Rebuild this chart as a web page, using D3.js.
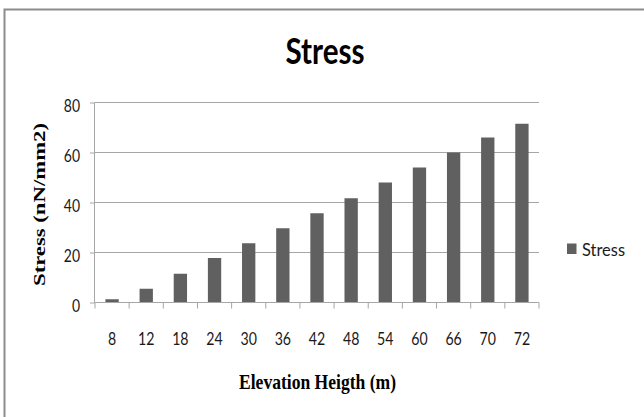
<!DOCTYPE html>
<html>
<head>
<meta charset="utf-8">
<script src="https://cdn.jsdelivr.net/npm/d3@7"></script>
<style>
  html, body { margin: 0; padding: 0; background: #fff; }
  svg { display: block; }
</style>
</head>
<body>
<svg id="chart" width="644" height="417"></svg>
<script>
// ---- data ----
const categories = ["8", "12", "18", "24", "30", "36", "42", "48", "54", "60", "66", "70", "72"];
const stressValues = [1.3, 5.5, 11.5, 17.8, 23.7, 29.7, 35.7, 41.7, 48.0, 54.0, 60.0, 66.0, 71.5];
const yTickValues = [0, 20, 40, 60, 80];
const seriesName = "Stress";
const chartTitle = "Stress";
const xAxisTitle = "Elevation Heigth (m)";
const yAxisTitle = "Stress (nN/mm2)";

// ---- layout ----
const svg = d3.select("#chart");
const plot = { left: 95, right: 539, top: 102.5, bottom: 302.5 };
const barColor = "#606060";
const gridColor = "#a6a6a6";
const sansFont = "Lato, 'Open Sans', sans-serif";
const serifFont = "'Liberation Serif', 'DejaVu Serif', serif";

// outer border (extends past right/bottom edge as in reference)
svg.append("rect")
  .attr("x", 4.5).attr("y", 9.5)
  .attr("width", 700).attr("height", 500)
  .attr("fill", "#fff")
  .attr("stroke", "#8c8c8c").attr("stroke-width", 2);

const x = d3.scaleBand().domain(categories).range([plot.left, plot.right]).padding(0);
const y = d3.scaleLinear().domain([0, 80]).range([plot.bottom, plot.top]);

// gridlines
svg.append("g").selectAll("line")
  .data(yTickValues.filter(d => d > 0))
  .join("line")
  .attr("x1", plot.left).attr("x2", plot.right)
  .attr("y1", d => y(d)).attr("y2", d => y(d))
  .attr("stroke", gridColor).attr("stroke-width", 1);

// bars
const barFrac = 0.39;
svg.append("g").selectAll("rect")
  .data(categories.map((c, i) => ({ c, v: stressValues[i] })))
  .join("rect")
  .attr("x", d => x(d.c) + x.bandwidth() * (1 - barFrac) / 2)
  .attr("width", x.bandwidth() * barFrac)
  .attr("y", d => y(d.v))
  .attr("height", d => y(0) - y(d.v))
  .attr("fill", barColor);

// y axis
const yAxis = svg.append("g")
  .attr("transform", `translate(${plot.left},0)`)
  .call(d3.axisLeft(y).tickValues(yTickValues).tickSize(5).tickPadding(10).tickFormat(d3.format("d")));
yAxis.select(".domain").attr("stroke", gridColor).attr("d", `M-0.5,${plot.top}V${plot.bottom}`);
yAxis.selectAll(".tick line").attr("stroke", gridColor);
yAxis.selectAll(".tick text")
  .attr("font-family", sansFont).attr("font-size", 17).attr("fill", "#1a1a1a")
  .attr("dy", "0.5em")
  .attr("textLength", d => String(d).length * 8.1)
  .attr("lengthAdjust", "spacingAndGlyphs");
yAxis.attr("font-size", null);

// x axis line and boundary ticks
const xg = svg.append("g");
xg.append("line")
  .attr("x1", plot.left).attr("x2", plot.right)
  .attr("y1", plot.bottom).attr("y2", plot.bottom)
  .attr("stroke", gridColor);
const boundaries = categories.map(c => x(c)).concat([x(categories[categories.length - 1]) + x.bandwidth()]);
xg.selectAll("line.tk").data(boundaries).join("line").attr("class", "tk")
  .attr("x1", d => d).attr("x2", d => d)
  .attr("y1", plot.bottom).attr("y2", plot.bottom + 6)
  .attr("stroke", gridColor);
xg.selectAll("text").data(categories).join("text")
  .attr("x", d => x(d) + x.bandwidth() / 2)
  .attr("y", 345)
  .attr("text-anchor", "middle")
  .attr("font-family", sansFont).attr("font-size", 18).attr("fill", "#1a1a1a")
  .attr("textLength", d => d.length * 8.2)
  .attr("lengthAdjust", "spacingAndGlyphs")
  .text(d => d);

// title
svg.append("text")
  .attr("x", 325).attr("y", 64)
  .attr("text-anchor", "middle")
  .attr("font-family", sansFont).attr("font-weight", "bold").attr("font-size", 36)
  .attr("fill", "#000")
  .attr("textLength", 79).attr("lengthAdjust", "spacingAndGlyphs")
  .text(chartTitle);

// x axis title
svg.append("text")
  .attr("x", 317.5).attr("y", 389)
  .attr("text-anchor", "middle")
  .attr("font-family", serifFont).attr("font-weight", "bold").attr("font-size", 21.5)
  .attr("fill", "#000")
  .attr("textLength", 157).attr("lengthAdjust", "spacingAndGlyphs")
  .text(xAxisTitle);

// y axis title
svg.append("text")
  .attr("transform", "translate(44.5,204.5) rotate(-90)")
  .attr("text-anchor", "middle")
  .attr("font-family", serifFont).attr("font-weight", "bold").attr("font-size", 16.5)
  .attr("fill", "#000")
  .attr("textLength", 163).attr("lengthAdjust", "spacingAndGlyphs")
  .text(yAxisTitle);

// legend
const lg = svg.append("g");
lg.append("rect")
  .attr("x", 567).attr("y", 243.5).attr("width", 9.5).attr("height", 10.5)
  .attr("fill", barColor);
lg.append("text")
  .attr("x", 582).attr("y", 256)
  .attr("font-family", sansFont).attr("font-size", 18).attr("fill", "#1a1a1a")
  .attr("textLength", 43).attr("lengthAdjust", "spacingAndGlyphs")
  .text(seriesName);
</script>
</body>
</html>
